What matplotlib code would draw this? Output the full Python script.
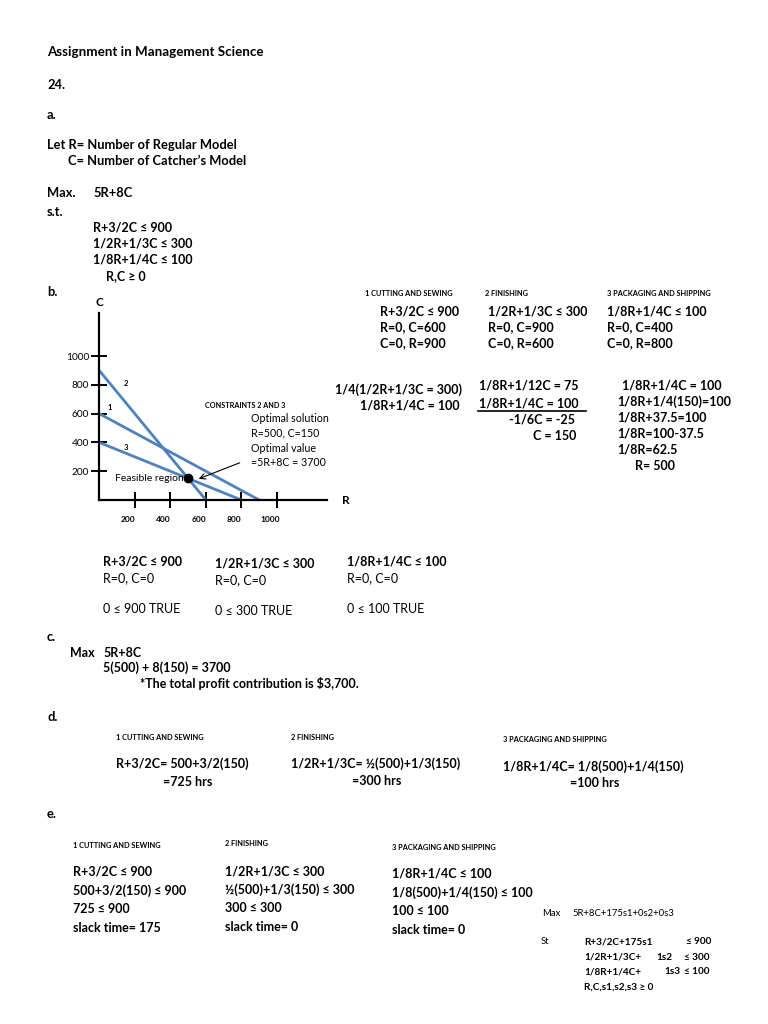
import matplotlib
matplotlib.use("Agg")
import matplotlib.pyplot as plt
from matplotlib import transforms

plt.rcParams['font.family'] = ['Lato', 'DejaVu Sans']

# ---- chart data ----
constraint_labels = ['1', '2', '3']
r_intercepts = [900, 600, 800]   # C = 0
c_intercepts = [600, 900, 400]   # R = 0
opt_R = [500]
opt_C = [150]
x_ticks = [200, 400, 600, 800, 1000]
y_ticks = [200, 400, 600, 800, 1000]
label_pos_R = [60, 150, 150]
label_pos_C = [640, 810, 368]

LINE = '#4F81BD'
W, H = 768, 1024
fig = plt.figure(figsize=(W / 100, H / 100), dpi=100)
fig.patch.set_facecolor('white')

FAM = ['Lato', 'DejaVu Sans']


def T(x, y, s, size=9, weight='bold', ha='left', **kw):
    return fig.text(x / W, 1 - y / H, s, fontsize=size, fontweight=weight,
                    ha=ha, va='center', family=FAM, **kw)


HS = 5.3      # header size
AS = 9.3

# ---- section a ----
T(47, 52, "Assignment in Management Science", size=9.6)
T(47, 85, "24.", size=AS)
T(47, 115, "a.", size=AS)
T(47, 145, "Let R= Number of Regular Model", size=AS)
T(68, 161, "C= Number of Catcher\u2019s Model", size=AS)
T(47, 193, "Max.", size=AS)
T(93, 193, "5R+8C", size=AS)
T(47, 212, "s.t.", size=AS)
T(93, 227, "R+3/2C \u2264 900")
T(93, 243, "1/2R+1/3C \u2264 300")
T(93, 259, "1/8R+1/4C \u2264 100")
T(106, 276, "R,C \u2265 0")
T(47, 292, "b.", size=AS)

# ---- section b right side ----
T(365, 293, "1 CUTTING AND SEWING", size=HS)
T(485, 293, "2 FINISHING", size=HS)
T(607, 293, "3 PACKAGING AND SHIPPING", size=HS)
for x, rows in [(380, ["R+3/2C \u2264 900", "R=0, C=600", "C=0, R=900"]),
                (488, ["1/2R+1/3C \u2264 300", "R=0, C=900", "C=0, R=600"]),
                (607, ["1/8R+1/4C \u2264 100", "R=0, C=400", "C=0, R=800"])]:
    for i, s in enumerate(rows):
        T(x, 311 + 16 * i, s)

T(335, 390, "1/4(1/2R+1/3C = 300)")
T(360, 405, "1/8R+1/4C = 100")
T(479, 386, "1/8R+1/12C = 75")
T(479, 403, "1/8R+1/4C = 100")
fig.add_artist(plt.Line2D([478 / W, 586 / W], [1 - 411 / H, 1 - 411 / H],
                          color='black', lw=1.2))
T(509, 420, "-1/6C = -25")
T(533, 436, "C = 150")
T(622, 385, "1/8R+1/4C = 100")
T(617, 402, "1/8R+1/4(150)=100")
T(617, 418, "1/8R+37.5=100")
T(617, 434, "1/8R=100-37.5")
T(617, 450, "1/8R=62.5")
T(635, 466, "R= 500")

# ---- chart ----
ax = fig.add_axes([99.3 / W, 1 - 500 / H, (326.7 - 99.3) / W, (500 - 313) / H])
ax.set_xlim(0, 1280)
ax.set_ylim(0, 1300)
for sp in ['top', 'right']:
    ax.spines[sp].set_visible(False)
for sp in ['left', 'bottom']:
    ax.spines[sp].set_linewidth(1.6)
ax.set_facecolor('none')
for r, c in zip(r_intercepts, c_intercepts):
    ax.plot([0, r], [c, 0], color=LINE, lw=2.0, solid_capstyle='butt', clip_on=False)
for lab, lr, lc in zip(constraint_labels, label_pos_R, label_pos_C):
    ax.text(lr, lc, lab, fontsize=5.5, fontweight='bold', family=FAM, ha='center', va='center')
ax.plot(opt_R, opt_C, 'o', color='black', ms=6, clip_on=False, zorder=5)
ax.set_xticks(x_ticks)
ax.set_yticks(y_ticks)
ax.set_xticklabels([str(v) for v in x_ticks], fontsize=6, fontweight='bold', family=FAM)
ax.set_yticklabels([str(v) for v in y_ticks], fontsize=7.3, family=FAM)
ax.tick_params(axis='both', direction='inout', length=11, width=1.4, pad=3)
ax.tick_params(axis='y', pad=2)
ax.tick_params(axis='x', pad=6)
off = transforms.ScaledTranslation(-0.07, 0, fig.dpi_scale_trans)
for t in ax.get_xticklabels():
    t.set_transform(t.get_transform() + off)
ax.text(490, 150, "Feasible region ", fontsize=7.5, family=FAM, ha='right', va='center')
ax.annotate("", xy=(545, 140), xytext=(805, 266),
            arrowprops=dict(arrowstyle='->', color='black', lw=0.8))

T(96, 302, "C", size=8.5)
T(342, 500, "R", size=8.5)
T(205, 406, "CONSTRAINTS 2 AND 3", size=5.2)
T(251, 418, "Optimal solution", size=7.7, weight='normal')
T(251, 433, "R=500, C=150", size=7.7, weight='normal')
T(251, 448, "Optimal value", size=7.7, weight='normal')
T(251, 463, "=5R+8C = 3700", size=7.7, weight='normal')

# ---- feasibility checks ----
for x, y0, rows in [(103, 562, ["R+3/2C \u2264 900", "R=0, C=0", "0 \u2264 900 TRUE"]),
                    (215, 564, ["1/2R+1/3C \u2264 300", "R=0, C=0", "0 \u2264 300 TRUE"]),
                    (347, 562, ["1/8R+1/4C \u2264 100", "R=0, C=0", "0 \u2264 100 TRUE"])]:
    T(x, y0, rows[0])
    T(x, y0 + 16, rows[1], weight='normal')
    T(x, y0 + 47, rows[2], weight='normal')

# ---- section c ----
T(47, 637, "c.", size=AS)
T(70, 653, "Max")
T(103, 653, "5R+8C")
T(103, 668, "5(500) + 8(150) = 3700")
T(140, 684, "*The total profit contribution is $3,700.")

# ---- section d ----
T(47, 717, "d.", size=AS)
T(116, 737, "1 CUTTING AND SEWING", size=HS)
T(291, 737, "2 FINISHING", size=HS)
T(503, 739, "3 PACKAGING AND SHIPPING", size=HS)
T(116, 764, "R+3/2C= 500+3/2(150)")
T(291, 764, "1/2R+1/3C= \u00bd(500)+1/3(150)")
T(503, 767, "1/8R+1/4C= 1/8(500)+1/4(150)")
T(163, 782, "=725 hrs")
T(352, 781, "=300 hrs")
T(570, 783, "=100 hrs")

# ---- section e ----
T(47, 814, "e.", size=AS)
T(73, 845, "1 CUTTING AND SEWING", size=HS)
T(225, 843, "2 FINISHING", size=HS)
T(392, 847, "3 PACKAGING AND SHIPPING", size=HS)
for x, y0, rows in [(73, 872, ["R+3/2C \u2264 900", "500+3/2(150) \u2264 900", "725 \u2264 900", "slack time= 175"]),
                    (225, 871, ["1/2R+1/3C \u2264 300", "\u00bd(500)+1/3(150) \u2264 300", "300 \u2264 300", "slack time= 0"]),
                    (392, 874, ["1/8R+1/4C \u2264 100", "1/8(500)+1/4(150) \u2264 100", "100 \u2264 100", "slack time= 0"])]:
    for i, s in enumerate(rows):
        T(x, y0 + 18.7 * i, s)

# ---- slack model ----
SS = 6.8
SB = 7.2
T(542, 914, "Max", size=SS, weight='normal')
T(572, 914, "5R+8C+175s1+0s2+0s3", size=SS, weight='normal')
T(541, 942, "St", size=SS, weight='normal')
T(584, 942, "R+3/2C+175s1", size=SB)
T(686, 942, "\u2264 900", size=SB)
T(584, 957, "1/2R+1/3C+", size=SB)
T(656, 957, "1s2", size=SB)
T(684, 957, "\u2264 300", size=SB)
T(584, 972, "1/8R+1/4C+", size=SB)
T(664, 972, "1s3", size=SB)
T(684, 972, "\u2264 100", size=SB)
T(584, 987, "R,C,s1,s2,s3 \u2265 0", size=SB)

fig.savefig("out.png", dpi=100, facecolor='white')
